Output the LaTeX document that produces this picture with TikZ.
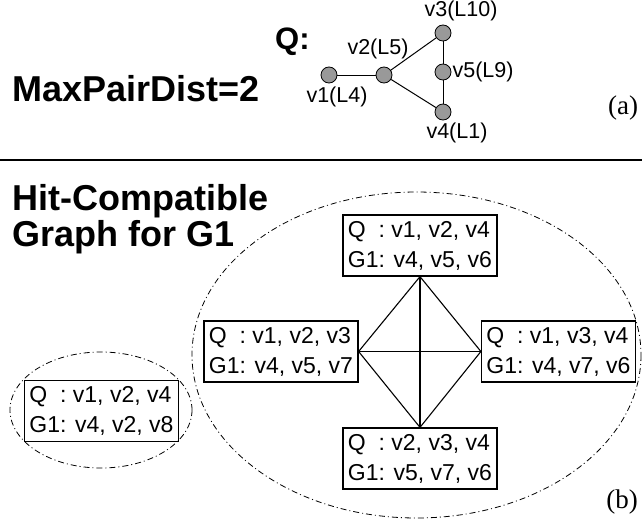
\documentclass[tikz,border=0pt]{standalone}
\usepackage{fontspec}
\setmainfont{Liberation Sans}
\newfontfamily\tagfont{Liberation Serif}
\usetikzlibrary{positioning}

\begin{document}
\begin{tikzpicture}[x=1pt, y=-1pt]
    \tikzstyle{vnode} = [circle, draw, fill=black!40, minimum size=16pt, inner sep=0pt, line width=0.8pt]
    \tikzstyle{vlabel} = [font=\fontsize{21.5}{21.5}\selectfont, inner sep=0pt]
    \tikzstyle{title} = [font=\fontsize{36}{36}\selectfont\bfseries, anchor=base west, inner sep=0pt]
    \tikzstyle{cbox} = [rectangle, draw, line width=1.2pt, font=\fontsize{23}{30}\selectfont, align=left, minimum width=154pt, minimum height=61pt, inner sep=2pt]
    \tikzstyle{edge} = [draw, line width=1.1pt]
    \tikzstyle{hull} = [draw, line width=0.8pt, dash pattern=on 6pt off 3pt on 1pt off 3pt]

    \useasboundingbox (0,0) rectangle (642,527);

    % (a) the query graph
    \node [title] (maxpd) at (12,101) {MaxPairDist=2};
    \node [title, font=\fontsize{31}{31}\selectfont\bfseries] (qname) at (275,50) {Q:};

    \node [vnode] (v1) at (329,75) {};
    \node [vnode] (v2) at (384,75) {};
    \node [vnode] (v3) at (443,33) {};
    \node [vnode] (v5) at (443,72) {};
    \node [vnode] (v4) at (443,112) {};

    \node [vlabel, above=3pt of v3, xshift=18pt] (l3) {v3(L10)};
    \node [vlabel, above=7pt of v2, xshift=-6pt] (l2) {v2(L5)};
    \node [vlabel, right=1pt of v5] (l5) {v5(L9)};
    \node [vlabel, below=3pt of v1, xshift=8pt] (l1) {v1(L4)};
    \node [vlabel, below=2pt of v4, xshift=14pt] (l4) {v4(L1)};

    \path [draw, line width=1pt] (v1) -- (v2);
    \path [draw, line width=1pt] (v2) -- (v3);
    \path [draw, line width=1pt] (v2) -- (v4);
    \path [draw, line width=1pt] (v3) -- (v5);
    \path [draw, line width=1pt] (v5) -- (v4);

    \node [font=\tagfont\fontsize{27}{27}\selectfont, inner sep=0pt] (taga) at (623,108) {(a)};

    \coordinate (sepl) at (0,160);
    \coordinate (sepr) at (642,160);
    \draw [line width=1.3pt] (sepl) -- (sepr);

    % (b) hit-compatible graph
    \node [title] (hit1) at (12,210) {Hit-Compatible};
    \node [title] (hit2) at (12,246) {Graph for G1};

    \node [cbox] (top) at (420,245.5) {Q~~: v1, v2, v4\\G1: v4, v5, v6};
    \node [cbox] (left) at (281,351.5) {Q~~: v1, v2, v3\\G1: v4, v5, v7};
    \node [cbox] (right) at (558.5,351.5) {Q~~: v1, v3, v4\\G1: v4, v7, v6};
    \node [cbox] (bot) at (420,458.5) {Q~~: v2, v3, v4\\G1: v5, v7, v6};
    \node [cbox] (lone) at (101.5,411) {Q~~: v1, v2, v4\\G1: v4, v2, v8};

    \path [edge] (top.south) -- (left.east);
    \path [edge] (top.south) -- (right.west);
    \path [edge] (top.south) -- (bot.north);
    \path [edge] (left.east) -- (right.west);
    \path [edge] (bot.north) -- (left.east);
    \path [edge] (bot.north) -- (right.west);

    \path [hull] (416.5,355) ellipse [x radius=224.5, y radius=163];
    \path [hull] (101,410) ellipse [x radius=91, y radius=58];

    \node [font=\tagfont\fontsize{27}{27}\selectfont, inner sep=0pt] (tagb) at (622,502) {(b)};
\end{tikzpicture}
\end{document}
